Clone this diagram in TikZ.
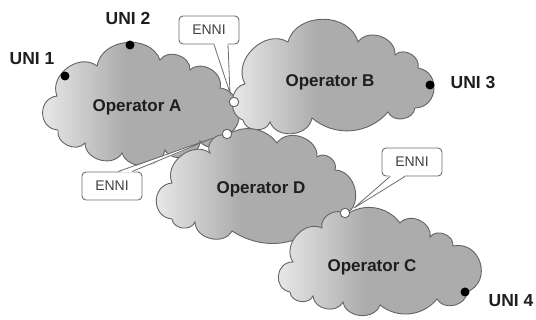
\documentclass[tikz,border=0pt]{standalone}
\usepackage{fontspec}
\setmainfont{Liberation Sans}
\usetikzlibrary{calc}

\definecolor{cloudlight}{RGB}{238,238,238}
\definecolor{clouddark}{RGB}{172,172,172}
\definecolor{cloudedge}{RGB}{100,100,100}
\definecolor{boxedge}{RGB}{110,110,110}
\definecolor{inktext}{RGB}{30,30,30}

% light on the left, flat grey from about two fifths of the width onwards
\pgfdeclarehorizontalshading{cloudfade}{100bp}{%
  color(0bp)=(cloudlight); color(24bp)=(cloudlight);
  color(46bp)=(clouddark); color(100bp)=(clouddark)}

\tikzset{
  cloudpath/.style={draw=cloudedge, line width=0.9pt, shade, shading=cloudfade},
  puff/.style={bend left=75, looseness=1.15},
  bigpuff/.style={bend left=85, looseness=1.5},
  flatpuff/.style={bend left=45, looseness=1},
  oplabel/.style={font=\bfseries\fontsize{17}{20}\selectfont, text=inktext},
  unilabel/.style={font=\bfseries\fontsize{17.5}{20}\selectfont, text=inktext},
  unidot/.style={circle, fill=black, inner sep=0pt, minimum size=9pt},
  ennidot/.style={circle, draw=cloudedge, fill=white, line width=0.9pt, inner sep=0pt, minimum size=9.5pt},
  calloutbox/.style={draw=boxedge, fill=white, rounded corners=4pt, line width=0.9pt,
    minimum width=60pt, minimum height=28pt, inner sep=0pt,
    font=\fontsize{14}{16}\selectfont, text=inktext!85},
  calloutline/.style={draw=boxedge, line width=0.8pt},
}

\begin{document}
\begin{tikzpicture}[x=1pt, y=-1pt]
\useasboundingbox (0,0) rectangle (536,320);

% Operator A
\draw[cloudpath] (58,130) to[bigpuff] (57,96) to[puff] (97,66) to[puff] (160,60)
  to[puff] (190,70) to[puff] (220,88) to[puff] (228,134) to[puff] (200,141)
  to[puff] (165,150) to[puff] (122,153) to[puff] (85,143) to[puff] cycle;

% Operator B
\draw[cloudpath] (243,120) to[puff] (245,84) to[puff] (288,42) to[puff] (358,42)
  to[puff] (395,55) to[puff] (418,68) to[bigpuff] (415,108) to[puff] (388,112)
  to[flatpuff] (312,118) to[puff] (270,122) to[puff] cycle;

% Operator D
\draw[cloudpath] (172,219) to[bigpuff] (172,183) to[puff] (210,153) to[puff] (226,136)
  to[flatpuff] (277,143) to[puff] (317,157) to[puff] (335,170) to[puff] (346,214)
  to[puff] (318,227) to[bend left=35] (232,231) to[puff] (195,222) to[puff] cycle;

% Operator C
\draw[cloudpath] (290,292) to[bigpuff] (293,262) to[puff] (322,228) to[puff] (346,215)
  to[flatpuff] (400,223) to[puff] (430,237) to[puff] (453,246) to[bigpuff] (467,292)
  to[puff] (437,299) to[flatpuff] (380,305) to[puff] (343,302) to[puff] (313,296)
  to[puff] cycle;

% operator names
\node[oplabel] (opA) at (137,107) {Operator A};
\node[oplabel] (opB) at (330,82) {Operator B};
\node[oplabel] (opD) at (261,189) {Operator D};
\node[oplabel] (opC) at (372,267) {Operator C};

% user network interfaces
\node[unidot] (u1) at (65,76) {};
\node[unidot] (u2) at (130,45) {};
\node[unidot] (u3) at (430,85) {};
\node[unidot] (u4) at (465,292) {};
\node[unilabel] (l1) at (32,59) {UNI 1};
\node[unilabel] (l2) at (128,18) {UNI 2};
\node[unilabel] (l3) at (473,82) {UNI 3};
\node[unilabel] (l4) at (511,301) {UNI 4};

% external network-network interfaces
\node[ennidot] (nAB) at (234,102) {};
\node[ennidot] (nAD) at (227,134) {};
\node[ennidot] (nDC) at (345,213) {};

% callouts
\coordinate (t1) at (230,93);
\coordinate (t2) at (213,138);
\coordinate (t3) at (354,208);

\node[calloutbox] (e1) at (209,30) {ENNI};
\node[calloutbox] (e2) at (112,186) {ENNI};
\node[calloutbox] (e3) at (412,162) {ENNI};

\fill[white] ([xshift=5pt,yshift=1.2pt]e1.south) -- (t1) -- ([xshift=19pt,yshift=1.2pt]e1.south) -- cycle;
\draw[calloutline] ([xshift=5pt]e1.south) -- (t1) -- ([xshift=19pt]e1.south);

\fill[white] ([xshift=6pt,yshift=-1.2pt]e2.north) -- (t2) -- ([xshift=20pt,yshift=-1.2pt]e2.north) -- cycle;
\draw[calloutline] ([xshift=6pt]e2.north) -- (t2) -- ([xshift=20pt]e2.north);

\fill[white] ([xshift=-22pt,yshift=1.2pt]e3.south) -- (t3) -- ([xshift=-7pt,yshift=1.2pt]e3.south) -- cycle;
\draw[calloutline] ([xshift=-22pt]e3.south) -- (t3) -- ([xshift=-7pt]e3.south);
\end{tikzpicture}
\end{document}
